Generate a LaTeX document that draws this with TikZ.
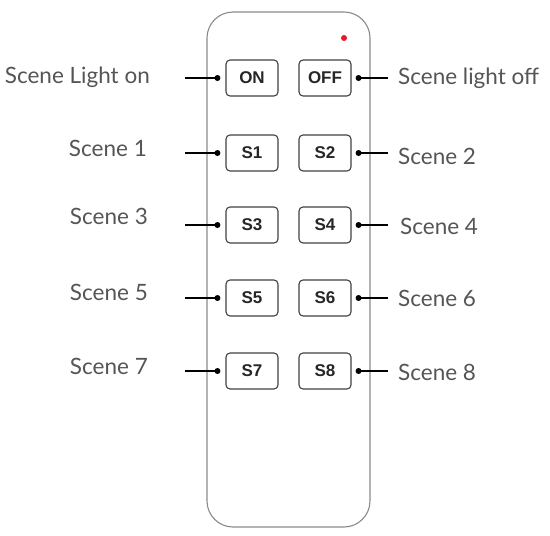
\documentclass[tikz,border=0pt]{standalone}
\usepackage{fontspec}
\setmainfont{Lato}
\newfontfamily\btnfont{Liberation Sans}
\definecolor{bodygray}{HTML}{8A8A8A}
\definecolor{txtgray}{HTML}{555555}
\definecolor{btngray}{HTML}{404040}
\definecolor{ledred}{HTML}{E8192C}
\begin{document}
\begin{tikzpicture}[x=1pt,y=-1pt,
  btn/.style={draw=btngray,line width=1.1pt,rounded corners=4pt,minimum width=52pt,minimum height=36pt,inner sep=0pt,font=\btnfont\bfseries\fontsize{17}{17}\selectfont,text=black!85},
  lbl/.style={inner sep=0pt,font=\fontsize{22.5}{22.5}\selectfont,text=txtgray},
  conn/.style={line width=1.2pt,black},
  dotc/.style={fill=black}
]
\useasboundingbox (0,0) rectangle (550,536);
% remote body
\draw[bodygray,line width=1.1pt,rounded corners=26pt] (207,12) rectangle (370,527);
\fill[ledred] (344,38) circle (3pt);
% buttons
\node[btn] (on)  at (252,78) {ON};
\node[btn] (off) at (325,78) {OFF};
\node[btn] (s1) at (252,153) {S1};
\node[btn] (s2) at (325,153) {S2};
\node[btn] (s3) at (252,225) {S3};
\node[btn] (s4) at (325,225) {S4};
\node[btn] (s5) at (252,298) {S5};
\node[btn] (s6) at (325,298) {S6};
\node[btn] (s7) at (252,371) {S7};
\node[btn] (s8) at (325,371) {S8};
% labels
\node[lbl,anchor=east] (lon) at (150,77) {Scene Light on};
\node[lbl,anchor=east] (l1) at (147,148) {Scene 1};
\node[lbl,anchor=east] (l3) at (148,216) {Scene 3};
\node[lbl,anchor=east] (l5) at (148,292) {Scene 5};
\node[lbl,anchor=east] (l7) at (148,366) {Scene 7};
\node[lbl,anchor=west] (loff) at (398,78) {Scene light off};
\node[lbl,anchor=west] (l2) at (398,156) {Scene 2};
\node[lbl,anchor=west] (l4) at (400,226) {Scene 4};
\node[lbl,anchor=west] (l6) at (398,298) {Scene 6};
\node[lbl,anchor=west] (l8) at (398,372) {Scene 8};
% connectors
\foreach \b/\l in {on/lon,s1/l1,s3/l3,s5/l5,s7/l7}{
  \coordinate (d\b) at ([xshift=-8pt]\b.west);
  \draw[conn] (d\b) -- (d\b -| 185,0);
  \fill[dotc] (d\b) circle (3pt);
}
\foreach \b/\l in {off/loff,s2/l2,s4/l4,s6/l6,s8/l8}{
  \coordinate (d\b) at ([xshift=7pt]\b.east);
  \draw[conn] (d\b) -- (d\b -| 388,0);
  \fill[dotc] (d\b) circle (3pt);
}
\end{tikzpicture}
\end{document}
